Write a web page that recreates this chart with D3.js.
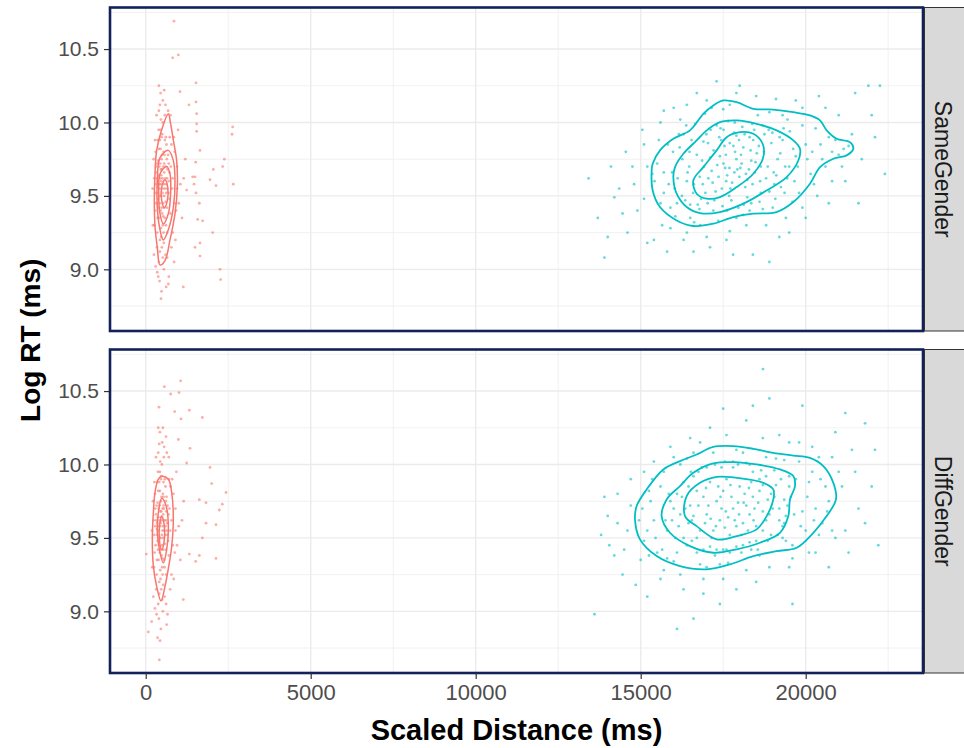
<!DOCTYPE html>
<html>
<head>
<meta charset="utf-8">
<script src="https://cdn.jsdelivr.net/npm/d3@7"></script>
<style>
  body { margin: 0; background: #fff; }
  text { font-family: "Liberation Sans", Arial, sans-serif; }
</style>
</head>
<body>
<div id="wrapper"></div>
<script>
// ---- data ----
const facets = ["SameGender", "DiffGender"];
const xTicks = [0, 5000, 10000, 15000, 20000];
const xMinor = [2500, 7500, 12500, 17500, 22500];
const yTicks = [9.0, 9.5, 10.0, 10.5];
const yMinor = [8.75, 9.25, 9.75, 10.25, 10.75];

// points: [scaled distance, log RT]
const sameRed = [
  [420,9.55],[510,9.62],[380,9.48],[600,9.70],[450,9.40],[550,9.58],[330,9.66],[480,9.75],[620,9.52],[400,9.82],
  [520,9.45],[700,9.60],[360,9.35],[580,9.88],[460,9.28],[640,9.42],[300,9.58],[500,9.92],[430,9.20],[560,9.66],
  [680,9.78],[350,9.72],[610,9.30],[470,9.50],[390,9.95],[530,9.36],[720,9.48],[440,9.62],[590,9.55],[320,9.45],
  [660,9.68],[490,9.15],[410,9.70],[570,9.78],[750,9.38],[370,9.60],[540,9.25],[630,9.85],[460,9.68],[800,9.55],
  [280,9.52],[520,10.00],[600,9.10],[430,9.88],[700,9.72],[350,9.25],[480,9.42],[650,9.62],[400,9.05],[560,9.50],
  [450,9.58],[510,9.52],[390,9.64],[470,9.60],[530,9.55],[420,9.45],[490,9.68],[370,9.52],[550,9.42],[440,9.72],
  [470,9.64],[530,9.70],[410,9.58],[590,9.62],[360,9.56],[500,9.38],[440,9.50],[560,9.72],[380,9.74],[620,9.58],
  [450,9.82],[520,9.30],[340,9.62],[600,9.46],[480,9.90],[410,9.35],[660,9.55],[390,9.42],[540,9.80],[470,9.22],
  [720,9.66],[310,9.70],[580,9.35],[500,9.78],[430,9.12],[640,9.75],[360,9.88],[550,9.18],[460,10.02],[610,9.90],
  [290,9.40],[690,9.52],[400,10.08],[760,9.70],[340,9.15],[520,9.08],[580,10.05],[260,9.62],[820,9.62],[450,9.95],
  [730,9.90],[270,9.30],[870,9.45],[300,9.80],[650,9.25],[780,9.85],[210,9.55],[950,9.55],[560,10.22],[430,10.12],
  [250,9.10],[220,9.30],[300,9.02],[350,8.98],[420,8.92],[480,8.85],[380,8.95],[550,9.00],[650,9.08],[900,9.20],
  [1000,9.45],[950,9.70],[850,9.90],[750,10.05],[600,10.12],[450,10.20],[400,10.25],[520,10.15],[680,10.08],[880,9.80],
  [1050,9.58],[1100,9.35],[820,9.25],[1150,9.62],[980,9.95],[920,9.40],[780,9.15],[700,8.95],[1200,9.75],[330,10.05],
  [280,9.88],[240,9.75],[620,8.88],[860,9.05],
  [858,10.69],[817,10.44],[989,10.46],[1524,10.27],[1039,10.21],[2635,9.97],[2615,9.92],[2655,9.58],[2383,9.75],[2332,9.70],
  [2050,9.68],[1948,9.61],[2130,9.57],[2251,9.00],[2271,8.93],[2029,9.25],[1645,9.18],[1494,9.15],[1645,9.09],[1575,9.34],
  [1726,9.33],[464,8.80],[1140,8.88],[686,8.90],[1312,10.12],[1524,10.14],[1544,10.06],[1544,9.99],[1544,9.94],[1645,9.81],
  [1514,9.73],[1494,9.63],[1423,9.63],[1464,9.58],[1524,9.52],[1625,9.45],[1241,9.54]
];

const sameTeal = [
  [17050,9.62],[17320,9.71],[17580,9.78],[17840,9.66],[18110,9.83],[18350,9.74],[17460,9.55],[17980,9.88],[18520,9.79],[17210,9.81],
  [16880,9.58],[17690,9.69],[18230,9.61],[17900,9.75],[17380,9.90],[18640,9.70],[16960,9.52],[17770,9.59],[18060,9.72],[17540,9.84],
  [18410,9.88],[17150,9.67],[17620,9.64],[18280,9.68],[17830,9.93],[16790,9.63],[18170,9.56],[17400,9.77],[17990,9.63],[18580,9.84],
  [17700,9.86],[17270,9.53],[18020,9.69],[17510,9.72],[18460,9.66],[16920,9.70],[17860,9.80],[18330,9.81],[17590,9.60],[17100,9.76],
  [16120,9.62],[16350,9.47],[16540,9.88],[16780,9.41],[17120,9.95],[17480,9.43],[17850,10.00],[18230,9.49],[18690,9.98],[19050,9.58],
  [19380,9.70],[19620,9.82],[19210,9.90],[18900,9.53],[16260,9.75],[16030,9.55],[16470,9.70],[16650,9.99],[17030,9.45],[17620,9.40],
  [18440,9.95],[18960,9.86],[19440,9.62],[19700,9.77],[16180,9.83],[16590,9.52],[17300,9.98],[17960,9.42],[18600,9.46],[19150,9.75],
  [16400,9.60],[16900,9.87],[17750,9.47],[18080,9.97],[18800,9.62],[19300,9.88],[16700,9.78],[17200,9.40],[18350,9.45],[19500,9.70],
  [15950,9.66],[16300,9.92],[17650,10.01],[18750,9.92],[19030,9.66],[16830,9.48],[18150,9.92],[19250,9.56],[16500,9.44],[17420,9.96],
  [16420,9.66],[16610,9.58],[16860,9.74],[17040,9.86],[17180,9.59],[17360,9.63],[17440,9.88],[17560,9.69],[17720,9.55],[17810,9.84],
  [17930,9.68],[18040,9.78],[18190,9.65],[18300,9.90],[18390,9.58],[18480,9.73],[18620,9.60],[18730,9.80],[18850,9.70],[18990,9.93],
  [19110,9.64],[19230,9.79],[19360,9.52],[19520,9.94],[19660,9.60],[19760,9.70],[16250,9.50],[16480,9.80],[16730,9.44],[16990,9.92],
  [17230,9.47],[17510,9.95],[17680,9.50],[17900,9.91],[18120,9.44],[18380,9.99],[18640,9.52],[18880,9.95],[19080,9.48],[19330,9.96],
  [15420,9.60],[15600,9.45],[15820,9.85],[16050,9.36],[16380,9.98],[16620,9.32],[16950,10.06],[17350,9.33],[17700,10.12],[18100,9.37],
  [18550,10.05],[19000,9.42],[19450,10.02],[19800,9.52],[20150,9.65],[20450,9.85],[20800,9.80],[21150,9.82],[20300,9.96],[19900,9.98],
  [15500,9.72],[15700,9.52],[16200,10.02],[16800,9.30],[17500,10.09],[18300,9.40],[18900,10.07],[19600,9.46],[20050,9.75],[20600,9.70],
  [15350,9.65],[15900,9.42],[16500,9.35],[17150,10.10],[17900,9.35],[18700,9.41],[19300,10.05],[20250,9.58],[20900,9.88],[21300,9.84],
  [15700,9.66],[15850,9.58],[15980,9.80],[16100,9.45],[16160,9.92],[20000,9.85],[20200,9.80],[20500,9.75],[20700,9.90],[21000,9.78],
  [15550,9.88],[15650,9.30],[15900,9.28],[16400,9.25],[17000,9.22],[17700,9.26],[18200,9.30],[18800,9.30],[19400,9.35],[19900,9.42],
  [20350,9.50],[20800,9.60],[21100,9.70],[21400,9.92],[19900,10.10],[19100,10.16],[18500,10.18],[17900,10.20],[17000,10.15],[16400,10.12],
  [15700,10.08],[15200,9.70],[15100,9.48],[14800,9.58],[14550,9.80],[14100,9.70],[13700,9.35],[14000,9.22],[22000,10.05],[22250,10.25],
  [13420,9.62],[13900,9.08],[14200,9.49],[14350,9.55],[14600,9.25],[14750,9.70],[14900,9.40],[15100,9.85],[15200,9.18],[14450,9.38],
  [15050,9.95],[15600,10.00],[15400,9.20],[16000,10.10],[16300,9.20],[16700,10.20],[17100,9.15],[17300,10.28],[17600,9.20],[18000,10.25],
  [18400,9.10],[18900,9.05],[19200,9.22],[19700,10.15],[20000,9.35],[20400,10.18],[20700,9.45],[21000,10.05],[21200,9.60],[21500,10.20],
  [21700,9.75],[21900,10.25],[22100,9.90],[22400,9.65],[21600,9.45],[20600,10.10],[19500,9.25],[17800,9.10],[16600,9.12],[15800,9.12]
];

const diffRed = [
  [400,9.55],[480,9.62],[360,9.48],[550,9.70],[430,9.40],[520,9.58],[310,9.66],[460,9.75],[590,9.52],[380,9.82],
  [500,9.45],[650,9.60],[340,9.35],[540,9.88],[440,9.28],[610,9.42],[290,9.58],[470,9.92],[410,9.20],[530,9.66],
  [630,9.78],[330,9.72],[570,9.30],[450,9.50],[370,9.95],[510,9.36],[680,9.48],[420,9.62],[560,9.55],[300,9.45],
  [620,9.68],[470,9.15],[390,9.70],[540,9.78],[700,9.38],[350,9.60],[510,9.25],[600,9.85],[440,9.68],[740,9.55],
  [260,9.52],[490,10.00],[570,9.10],[410,9.88],[660,9.72],[330,9.25],[460,9.42],[620,9.62],[380,9.05],[530,9.50],
  [430,9.58],[490,9.52],[370,9.64],[450,9.60],[510,9.55],[400,9.45],[470,9.68],[350,9.52],[530,9.42],[420,9.72],
  [450,9.64],[510,9.70],[390,9.58],[570,9.62],[340,9.56],[480,9.38],[420,9.50],[540,9.72],[360,9.74],[600,9.58],
  [430,9.82],[500,9.30],[320,9.62],[580,9.46],[460,9.90],[390,9.35],[640,9.55],[370,9.42],[520,9.80],[450,9.22],
  [690,9.66],[290,9.70],[560,9.35],[480,9.78],[410,9.12],[610,9.75],[340,9.88],[530,9.18],[440,10.02],[580,9.90],
  [270,9.40],[660,9.52],[380,10.08],[720,9.70],[320,9.15],[500,9.08],[550,10.05],[240,9.62],[780,9.62],[430,9.95],
  [700,9.90],[250,9.30],[820,9.45],[280,9.80],[620,9.25],[750,9.85],[190,9.55],[900,9.55],[520,10.25],[410,10.14],
  [230,9.10],[200,9.30],[280,9.02],[330,8.98],[400,8.95],[460,8.88],[360,8.82],[520,9.00],[620,9.05],[850,9.22],
  [950,9.45],[900,9.70],[800,9.90],[700,10.05],[560,10.12],[430,10.22],[380,10.25],[500,10.15],[640,10.08],[840,9.80],
  [1000,9.58],[1050,9.35],[780,9.25],[1100,9.62],[930,9.95],[880,9.40],[740,9.15],[660,8.98],[1150,9.75],[310,10.05],
  [260,9.88],[220,9.75],
  [1060,10.57],[565,10.53],[757,10.48],[1009,10.49],[403,10.39],[878,10.36],[1322,10.37],[1070,10.31],[1716,10.32],[615,10.19],
  [989,10.17],[1342,10.11],[1241,10.01],[1948,9.98],[1999,9.87],[2433,9.81],[2322,9.73],[2231,9.69],[1625,9.76],[1827,9.74],
  [1827,9.60],[2130,9.59],[1716,9.50],[1625,9.38],[1514,9.34],[2130,9.36],[1322,9.39],[1140,9.08],[80,8.86],[413,8.67],
  [433,8.80],[181,8.93],[19,9.39],[635,8.91]
];

const diffTeal = [
  [16600,9.65],[16900,9.78],[17200,9.55],[17500,9.82],[17800,9.70],[18100,9.60],[18400,9.78],[18700,9.68],[16800,9.55],[17100,9.88],
  [17400,9.62],[17700,9.52],[18000,9.85],[18300,9.66],[18600,9.82],[16500,9.72],[17000,9.66],[17300,9.75],[17600,9.90],[17900,9.58],
  [18200,9.72],[18500,9.58],[18850,9.76],[16700,9.82],[17150,9.50],[17450,9.70],[17750,9.78],[18050,9.52],[18350,9.88],[16450,9.60],
  [17050,9.72],[17650,9.64],[18250,9.55],[18800,9.62],[17350,9.85],[17950,9.74],[16950,9.60],[18450,9.70],[17550,9.57],[18150,9.80],
  [16350,9.70],[16550,9.62],[16750,9.72],[16980,9.84],[17120,9.63],[17280,9.58],[17420,9.78],[17580,9.68],[17720,9.86],[17850,9.62],
  [17980,9.66],[18120,9.74],[18280,9.84],[18420,9.62],[18560,9.74],[18700,9.86],[18900,9.66],[19050,9.78],[19200,9.70],[19350,9.60],
  [15750,9.62],[15900,9.75],[16050,9.50],[16300,9.88],[16400,9.45],[16750,9.95],[16900,9.42],[17250,10.00],[17600,9.42],[17950,10.00],
  [18300,9.47],[18650,9.96],[18950,9.52],[19250,9.90],[19400,9.65],[19550,9.78],[19300,9.58],[15850,9.80],[16150,9.58],[16600,9.92],
  [17100,9.44],[17800,9.98],[18500,9.48],[19100,9.86],[19450,9.72],[16000,9.70],[16550,9.48],[17450,9.98],[18100,9.45],[18800,9.92],
  [19200,9.62],[16250,9.78],[17300,9.42],[18400,9.95],[19500,9.85],[15800,9.55],[16850,9.98],[17700,9.40],[18700,9.55],[19000,9.70],
  [16200,9.66],[17900,9.44],[18950,9.80],[16450,9.85],[17550,10.02],[18600,9.90],[19350,9.76],[16700,9.50],[18200,10.01],[19150,9.52],
  [19500,9.92],[19650,9.66],[15950,9.62],[16100,9.80],[16300,9.50],[16520,9.95],[16700,9.40],[17000,9.98],[17250,9.38],[17500,9.42],
  [17800,10.02],[18050,9.40],[18300,10.00],[18550,9.42],[18850,9.48],[19050,9.96],[19300,9.50],[19700,9.90],[19850,9.58],[20050,9.78],
  [14950,9.62],[15100,9.48],[15250,9.82],[15500,9.40],[15700,9.95],[16000,9.34],[16400,10.04],[16800,9.32],[17200,10.08],[17650,9.33],
  [18100,10.08],[18600,9.38],[19100,10.04],[19600,9.45],[20000,9.55],[20300,9.70],[20600,9.85],[20500,9.60],[20200,9.95],[19800,10.02],
  [15050,9.70],[15350,9.90],[15800,9.36],[16600,10.08],[17000,9.30],[17900,10.10],[18350,9.42],[19350,10.03],[19900,9.68],[20700,9.75],
  [15200,9.55],[15650,9.42],[16200,10.00],[17400,9.32],[18800,10.05],[19400,9.48],[20100,9.88],[20400,9.52],[15400,9.62],[16100,9.40],
  [20250,9.62],[20450,9.90],[20650,9.68],[20800,9.55],[15300,9.75],[15450,9.50],[15600,9.85],[15250,9.38],[15700,9.28],[16200,9.25],
  [16900,9.22],[17500,9.22],[18200,9.28],[18900,9.30],[19600,9.36],[20300,9.40],[20900,9.50],[21100,9.85],[20800,10.05],[20200,10.12],
  [19500,10.15],[18700,10.18],[17600,10.20],[16800,10.15],[16000,10.05],[15100,9.95],[14700,9.72],[14500,9.42],[14300,9.60],[14050,9.45],
  [13900,9.78],[21500,9.95],[21800,9.60],[22100,10.10],[21200,10.35],[19900,10.40],[18400,10.40],[17500,10.38],[16600,8.95],[19600,9.05],
  [13600,8.98],[13800,9.52],[14000,9.65],[14200,9.38],[14300,9.80],[14450,9.25],[14600,9.55],[14700,9.90],[14850,9.18],[15000,9.35],
  [15200,9.10],[15400,10.02],[15600,9.22],[15900,10.12],[16100,8.88],[16300,9.15],[16500,10.18],[16900,9.12],[17100,10.25],[17400,9.05],
  [17900,9.15],[18200,10.30],[18500,9.20],[18900,10.45],[19200,10.20],[19500,9.30],[19800,10.15],[20100,9.40],[20400,10.05],[20700,9.30],
  [21000,9.95],[21200,9.55],[21400,10.10],[21600,9.70],[21800,10.28],[22000,9.85],[22200,9.45],[21300,9.40],[20900,10.22],[18706,10.65]
];

// density contour rings
const sameRedContours = [
  [[686,10.06],[484,9.95],[332,9.81],[282,9.65],[261,9.47],[282,9.29],[352,9.15],[433,9.03],[585,9.06],[736,9.20],[888,9.38],[958,9.56],[938,9.74],[837,9.88],[756,9.99]],
  [[686,9.81],[433,9.76],[352,9.61],[352,9.42],[433,9.27],[534,9.20],[686,9.27],[837,9.42],[888,9.61],[837,9.74]],
  [[635,9.70],[433,9.65],[393,9.52],[433,9.38],[534,9.31],[686,9.38],[756,9.52],[736,9.65]],
  [[585,9.61],[484,9.56],[484,9.47],[565,9.42],[656,9.47],[666,9.56]]
];
const sameTealContours = [
  [[15333,9.674],[15363,9.537],[15585,9.424],[16090,9.333],[16595,9.295],[17201,9.311],[17807,9.356],[18413,9.379],[19120,9.390],[19625,9.458],
   [20130,9.583],[20434,9.696],[20838,9.753],[21241,9.776],[21443,9.821],[21342,9.866],[20938,9.889],[20636,9.946],[20434,10.014],[20130,10.048],
   [19625,10.070],[19019,10.088],[18413,10.093],[17908,10.138],[17504,10.150],[17201,10.116],[16898,10.059],[16494,9.946],[15989,9.889],[15585,9.810],[15363,9.719]],
  [[15989,9.628],[16090,9.515],[16393,9.424],[16797,9.383],[17403,9.390],[18110,9.447],[18817,9.537],[19423,9.628],[19777,9.741],[19827,9.821],
   [19625,9.878],[19120,9.946],[18514,9.991],[17908,10.014],[17403,10.002],[17000,9.946],[16696,9.878],[16292,9.787],[16040,9.696]],
  [[16595,9.605],[16696,9.515],[16999,9.481],[17403,9.492],[17908,9.560],[18413,9.651],[18716,9.764],[18696,9.855],[18413,9.923],[18009,9.934],
   [17605,9.900],[17302,9.810],[16898,9.696]]
];
const diffRedContours = [
  [[484,9.92],[686,9.90],[787,9.81],[837,9.63],[787,9.44],[686,9.29],[585,9.17],[464,9.07],[332,9.17],[231,9.31],[201,9.49],[231,9.67],[282,9.81],[383,9.90]],
  [[484,9.77],[615,9.72],[686,9.58],[635,9.42],[534,9.33],[433,9.40],[352,9.54],[383,9.67]],
  [[484,9.65],[565,9.58],[555,9.47],[484,9.42],[413,9.49],[423,9.59]]
];
const diffTealContours = [
  [[14827,9.626],[14979,9.490],[15484,9.376],[16191,9.308],[16999,9.286],[17706,9.320],[18413,9.376],[19120,9.410],[19726,9.433],[20231,9.535],
   [20635,9.649],[20918,9.762],[20838,9.875],[20535,9.989],[20130,10.045],[19625,10.061],[19019,10.079],[18413,10.107],[17807,10.125],[17201,10.120],
   [16696,10.068],[16191,10.023],[15686,9.966],[15181,9.830],[14878,9.717]],
  [[15635,9.648],[15888,9.535],[16494,9.444],[17201,9.399],[17908,9.422],[18615,9.467],[19221,9.535],[19474,9.649],[19524,9.762],[19676,9.853],
   [19625,9.921],[19221,9.966],[18514,10.000],[17807,10.016],[17201,10.007],[16595,9.943],[16191,9.853],[15787,9.762]],
  [[16343,9.648],[16696,9.580],[17302,9.490],[17908,9.512],[18514,9.558],[18817,9.648],[19019,9.762],[19019,9.830],[18716,9.875],[17908,9.909],
   [17302,9.916],[16797,9.875],[16393,9.785]]
];

const panelData = [
  { red: sameRed, teal: sameTeal, redC: sameRedContours, tealC: sameTealContours },
  { red: diffRed, teal: diffTeal, redC: diffRedContours, tealC: diffTealContours }
];

const colors = { red: "#F8766D", teal: "#00BFC4" };

// ---- dimensions ----
const dimensions = {
  width: 964,
  height: 748,
  margins: { top: 7.5, right: 41, bottom: 75, left: 110 },
  panelGap: 18.5,
  stripWidth: 46
};
dimensions.boundedWidth = dimensions.width - dimensions.margins.left - dimensions.margins.right;
dimensions.panelHeight = (dimensions.height - dimensions.margins.top - dimensions.margins.bottom - dimensions.panelGap) / 2;

const wrapper = d3.select("#wrapper")
  .append("svg")
  .attr("width", dimensions.width)
  .attr("height", dimensions.height);

// ---- scales ----
const xScale = d3.scaleLinear()
  .domain([-1082, 23555])
  .range([0, dimensions.boundedWidth]);

const yScale = d3.scaleLinear()
  .domain([8.58, 10.783])
  .range([dimensions.panelHeight, 0]);

const line = d3.line()
  .x(d => xScale(d[0]))
  .y(d => yScale(d[1]))
  .curve(d3.curveCatmullRomClosed.alpha(0.5));

facets.forEach((name, i) => {
  const top = dimensions.margins.top + i * (dimensions.panelHeight + dimensions.panelGap);
  const panel = wrapper.append("g")
    .attr("transform", `translate(${dimensions.margins.left},${top})`);

  const clipId = "clip" + i;
  panel.append("clipPath").attr("id", clipId)
    .append("rect").attr("width", dimensions.boundedWidth).attr("height", dimensions.panelHeight);

  panel.append("rect")
    .attr("width", dimensions.boundedWidth)
    .attr("height", dimensions.panelHeight)
    .attr("fill", "#fff");

  // grid
  const grid = panel.append("g").attr("clip-path", `url(#${clipId})`);
  grid.selectAll(".xminor").data(xMinor).join("line")
    .attr("x1", d => xScale(d)).attr("x2", d => xScale(d))
    .attr("y1", 0).attr("y2", dimensions.panelHeight)
    .attr("stroke", "#EBEBEB").attr("stroke-width", 0.7);
  grid.selectAll(".yminor").data(yMinor).join("line")
    .attr("y1", d => yScale(d)).attr("y2", d => yScale(d))
    .attr("x1", 0).attr("x2", dimensions.boundedWidth)
    .attr("stroke", "#EBEBEB").attr("stroke-width", 0.7);
  grid.selectAll(".xmajor").data(xTicks).join("line")
    .attr("x1", d => xScale(d)).attr("x2", d => xScale(d))
    .attr("y1", 0).attr("y2", dimensions.panelHeight)
    .attr("stroke", "#EBEBEB").attr("stroke-width", 1.4);
  grid.selectAll(".ymajor").data(yTicks).join("line")
    .attr("y1", d => yScale(d)).attr("y2", d => yScale(d))
    .attr("x1", 0).attr("x2", dimensions.boundedWidth)
    .attr("stroke", "#EBEBEB").attr("stroke-width", 1.4);

  // points
  const marks = panel.append("g").attr("clip-path", `url(#${clipId})`);
  const d = panelData[i];
  ["red", "teal"].forEach(k => {
    marks.append("g").selectAll("circle").data(d[k]).join("circle")
      .attr("cx", p => xScale(p[0]))
      .attr("cy", p => yScale(p[1]))
      .attr("r", 1.4)
      .attr("fill", colors[k])
      .attr("opacity", 0.6);
  });

  // contours
  marks.append("g").selectAll("path").data(d.redC).join("path")
    .attr("d", line).attr("fill", "none")
    .attr("stroke", colors.red).attr("stroke-width", 1.5);
  marks.append("g").selectAll("path").data(d.tealC).join("path")
    .attr("d", line).attr("fill", "none")
    .attr("stroke", colors.teal).attr("stroke-width", 1.8);

  // y axis
  const yAxis = panel.append("g")
    .call(d3.axisLeft(yScale).tickValues(yTicks).tickFormat(d3.format(".1f")).tickSize(6).tickPadding(5));
  yAxis.select(".domain").remove();
  yAxis.selectAll(".tick line").attr("stroke", "#333").attr("stroke-width", 1.2);
  yAxis.selectAll(".tick text").attr("fill", "#4D4D4D").style("font-size", "21px");

  // panel border
  panel.append("rect")
    .attr("width", dimensions.boundedWidth)
    .attr("height", dimensions.panelHeight)
    .attr("fill", "none")
    .attr("stroke", "#12215A")
    .attr("stroke-width", 2.6);

  // strip
  const strip = panel.append("g")
    .attr("transform", `translate(${dimensions.boundedWidth + 1.5},0)`);
  strip.append("rect")
    .attr("width", dimensions.stripWidth)
    .attr("height", dimensions.panelHeight)
    .attr("fill", "#D9D9D9")
    .attr("stroke", "#333")
    .attr("stroke-width", 1);
  strip.append("text")
    .attr("transform", `translate(${19},${dimensions.panelHeight / 2}) rotate(90)`)
    .attr("text-anchor", "middle")
    .attr("dy", "0.35em")
    .attr("fill", "#1A1A1A")
    .style("font-size", "23px")
    .text(name);

  if (i === 1) {
    const xAxis = panel.append("g")
      .attr("transform", `translate(0,${dimensions.panelHeight})`)
      .call(d3.axisBottom(xScale).tickValues(xTicks).tickFormat(d3.format("d")).tickSize(6).tickPadding(5));
    xAxis.select(".domain").remove();
    xAxis.selectAll(".tick line").attr("stroke", "#333").attr("stroke-width", 1.2);
    xAxis.selectAll(".tick text").attr("fill", "#4D4D4D").style("font-size", "22px");
  }
});

// axis titles
wrapper.append("text")
  .attr("x", dimensions.margins.left + dimensions.boundedWidth / 2)
  .attr("y", 740)
  .attr("text-anchor", "middle")
  .style("font-size", "29px")
  .style("font-weight", "bold")
  .text("Scaled Distance (ms)");

wrapper.append("text")
  .attr("transform", `translate(40,${dimensions.margins.top + dimensions.panelHeight + dimensions.panelGap / 2}) rotate(-90)`)
  .attr("text-anchor", "middle")
  .style("font-size", "28px")
  .style("font-weight", "bold")
  .text("Log RT (ms)");
</script>
</body>
</html>
